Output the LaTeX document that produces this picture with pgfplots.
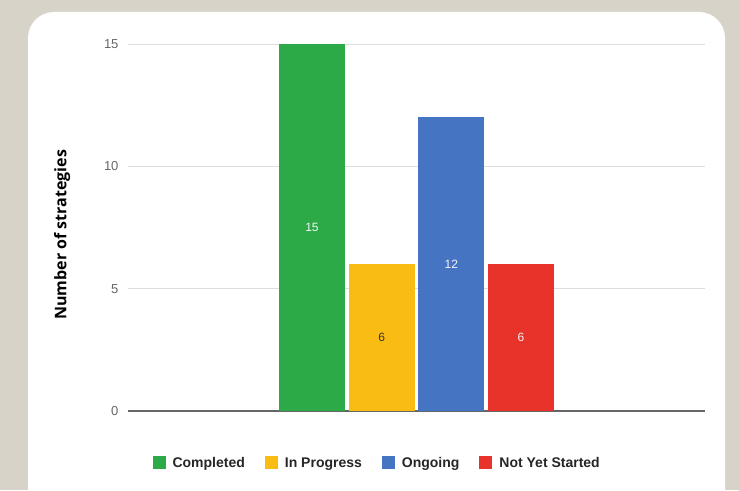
\documentclass[border=0pt]{standalone}
\usepackage{pgfplots}
\pgfplotsset{compat=1.18}
\usepackage{fontspec}
\setmainfont{Liberation Sans}
\newfontfamily\labfont{Open Sans}
\definecolor{bgbeige}{HTML}{D8D3C8}
\definecolor{cgreen}{HTML}{2BAA47}
\definecolor{cyellow}{HTML}{F8BC12}
\definecolor{cblue}{HTML}{4574C3}
\definecolor{cred}{HTML}{E8332B}
\definecolor{gridgray}{HTML}{DDDDDD}
\definecolor{axisgray}{HTML}{666666}
\definecolor{ticktext}{HTML}{666666}
\begin{document}
\begin{tikzpicture}[x=1pt,y=1pt]
\fill[bgbeige] (0,0) rectangle (739,490);
\useasboundingbox (0,0) rectangle (739,490);
\fill[white, rounded corners=26pt] (28,-40) rectangle (725,478);
\begin{axis}[
  at={(128pt,79pt)}, anchor=south west,
  scale only axis, width=577pt, height=367pt,
  xmin=-2.64, xmax=5.64, ymin=0, ymax=15,
  clip=false,
  ybar, bar shift=0pt, bar width=66pt,
  axis line style={draw=none},
  xtick=\empty,
  ytick={5,10,15},
  extra y ticks={0},
  extra y tick style={grid style={axisgray, line width=1.2pt}},
  ymajorgrids, grid style={gridgray, line width=0.8pt},
  major tick length=0pt,
  /pgf/number format/assume math mode=true,
  yticklabel style={font=\fontsize{13}{15}\selectfont, text=ticktext, xshift=-6pt},
  ylabel={\labfont\bfseries Number of strategies},
  ylabel style={font=\fontsize{16}{19}\selectfont, text=black, at={(axis description cs:-0.114,0.48)}, anchor=center},
  legend columns=4,
  legend style={at={(0.431,-0.142)}, anchor=center, draw=none, fill=none,
    font=\fontsize{14}{16}\selectfont\bfseries, text=black!85,
    /tikz/every even column/.append style={column sep=19pt},
    /tikz/every odd column/.append style={column sep=6pt},
    nodes={inner sep=1pt}},
  legend image code/.code={\fill[#1, draw=none] (0pt,-6pt) rectangle (13pt,7pt);},
]
\addplot[fill=cgreen, draw=none] coordinates {(0,15)};
\addlegendentry{Completed}
\addplot[fill=cyellow, draw=none] coordinates {(1,6)};
\addlegendentry{In Progress}
\addplot[fill=cblue, draw=none] coordinates {(2,12)};
\addlegendentry{Ongoing}
\addplot[fill=cred, draw=none] coordinates {(3,6)};
\addlegendentry{Not Yet Started}
\addplot[draw=none, fill=none, forget plot, nodes near coords, point meta=explicit symbolic,
  every node near coord/.style={anchor=center, text=white!92!gray, font=\fontsize{12}{14}\selectfont}]
  table[meta=label] {
x y label
0 7.5 15
2 6 12
3 3 6
};
\addplot[draw=none, fill=none, forget plot, nodes near coords, point meta=explicit symbolic,
  every node near coord/.style={anchor=center, text=black!80, font=\fontsize{12}{14}\selectfont}]
  table[meta=label] {
x y label
1 3 6
};
\end{axis}
\end{tikzpicture}
\end{document}
